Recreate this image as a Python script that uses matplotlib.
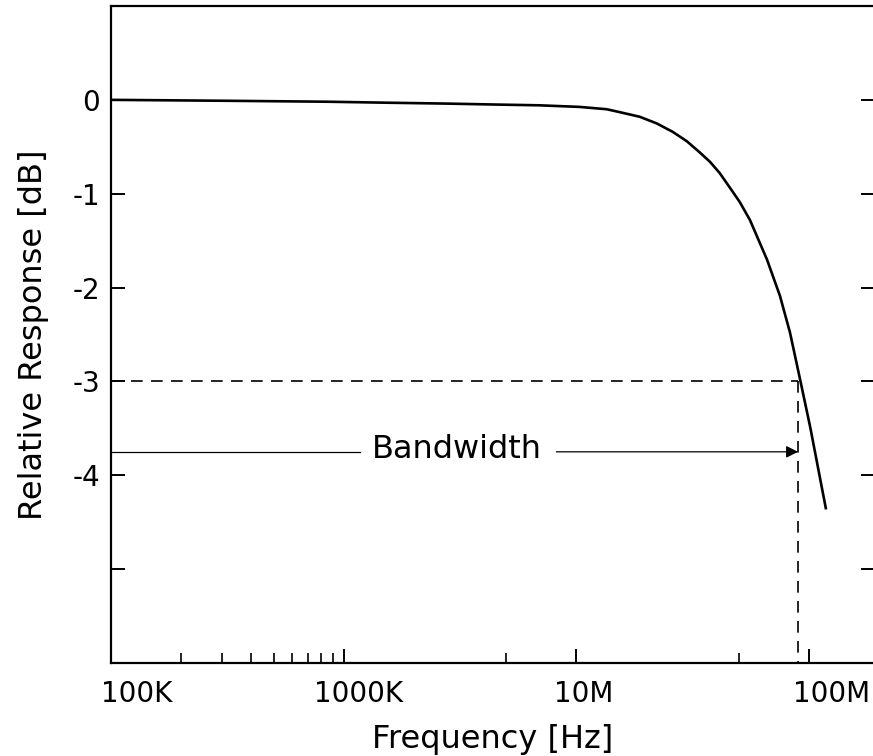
import matplotlib
matplotlib.use("Agg")
import matplotlib.pyplot as plt
import matplotlib.transforms as mtransforms

# response curve
freq_hz = [1e5, 3.2e5, 8.6e5, 1.5e6, 2.8e6, 4.5e6, 6.9e6, 1.03e7, 1.35e7,
           1.53e7, 1.87e7, 2.21e7, 2.59e7, 2.98e7, 3.39e7, 3.75e7, 4.13e7,
           4.70e7, 5.04e7, 5.57e7, 6.59e7, 7.50e7, 8.28e7, 9.15e7, 1.01e8,
           1.18e8]
resp_db = [0.0, -0.01, -0.02, -0.03, -0.04, -0.05, -0.058, -0.075, -0.10,
           -0.13, -0.18, -0.25, -0.34, -0.44, -0.56, -0.66, -0.78,
           -0.98, -1.09, -1.28, -1.70, -2.09, -2.48, -2.98, -3.48,
           -4.35]

bw_freq = 8.97e7     # -3 dB point
bw_level = -3.0
arrow_level = -3.75

major_x = [1e5, 1e6, 1e7, 1e8]
major_x_labels = ["100K", "1000K", "10M", "100M"]
minor_x = [2e5, 3e5, 4e5, 5e5, 6e5, 7e5, 8e5, 9e5, 5e6, 5e7]
y_ticks = [0, -1, -2, -3, -4, -5]
y_tick_labels = ["0", "-1", "-2", "-3", "-4", ""]

fig = plt.figure(figsize=(8.73, 7.56), dpi=100)
ax = fig.add_axes([111 / 873, 1 - 663 / 756, 764 / 873, 657 / 756])

ax.plot(freq_hz, resp_db, color="black", lw=1.9, solid_joinstyle="round")

# -3 dB guide lines
ax.plot([1e5, bw_freq], [bw_level, bw_level], color="black", lw=1.2,
        dashes=(7, 5))
ax.plot([bw_freq, bw_freq], [bw_level, -6], color="black", lw=1.2,
        dashes=(7, 5))

# bandwidth arrow
ax.plot([1e5, 1.18e6], [arrow_level, arrow_level], color="black", lw=0.9)
ax.annotate("", xy=(bw_freq, arrow_level), xytext=(8.2e6, arrow_level),
            arrowprops=dict(arrowstyle="-|>", color="black", lw=0.9,
                            mutation_scale=18, shrinkA=0, shrinkB=0))
ax.text(3.07e6, arrow_level + 0.03, "Bandwidth", ha="center", va="center",
        fontsize=23)

ax.set_xscale("log")
ax.set_xlim(1e5, 1.92e8)
ax.set_ylim(-6, 1)

ax.set_xticks(major_x)
ax.set_xticklabels(major_x_labels)
ax.set_xticks(minor_x, minor=True)
ax.set_xticklabels([""] * len(minor_x), minor=True)
ax.set_yticks(y_ticks)
ax.set_yticklabels(y_tick_labels)

ax.tick_params(axis="both", which="major", direction="in", length=10,
               width=1.4, labelsize=20, colors="black")
ax.tick_params(axis="x", which="major", pad=12)
ax.tick_params(axis="x", which="minor", direction="in", length=7, width=1.2)
ax.tick_params(axis="y", which="major", right=True, pad=8)

# hand-lettered labels sit a little right of their ticks
shifts_px = [26, 15, 7, 22]
for lab, dx in zip(ax.get_xticklabels(), shifts_px):
    off = mtransforms.ScaledTranslation(dx / 100, 0, fig.dpi_scale_trans)
    lab.set_transform(lab.get_transform() + off)

for side in ["left", "bottom", "top"]:
    ax.spines[side].set_linewidth(1.6)
ax.spines["right"].set_visible(False)

ax.set_xlabel("Frequency [Hz]", fontsize=23, labelpad=12)
ax.set_ylabel("Relative Response [dB]", fontsize=23, labelpad=17)

fig.savefig("out.png", dpi=100, facecolor="white")
